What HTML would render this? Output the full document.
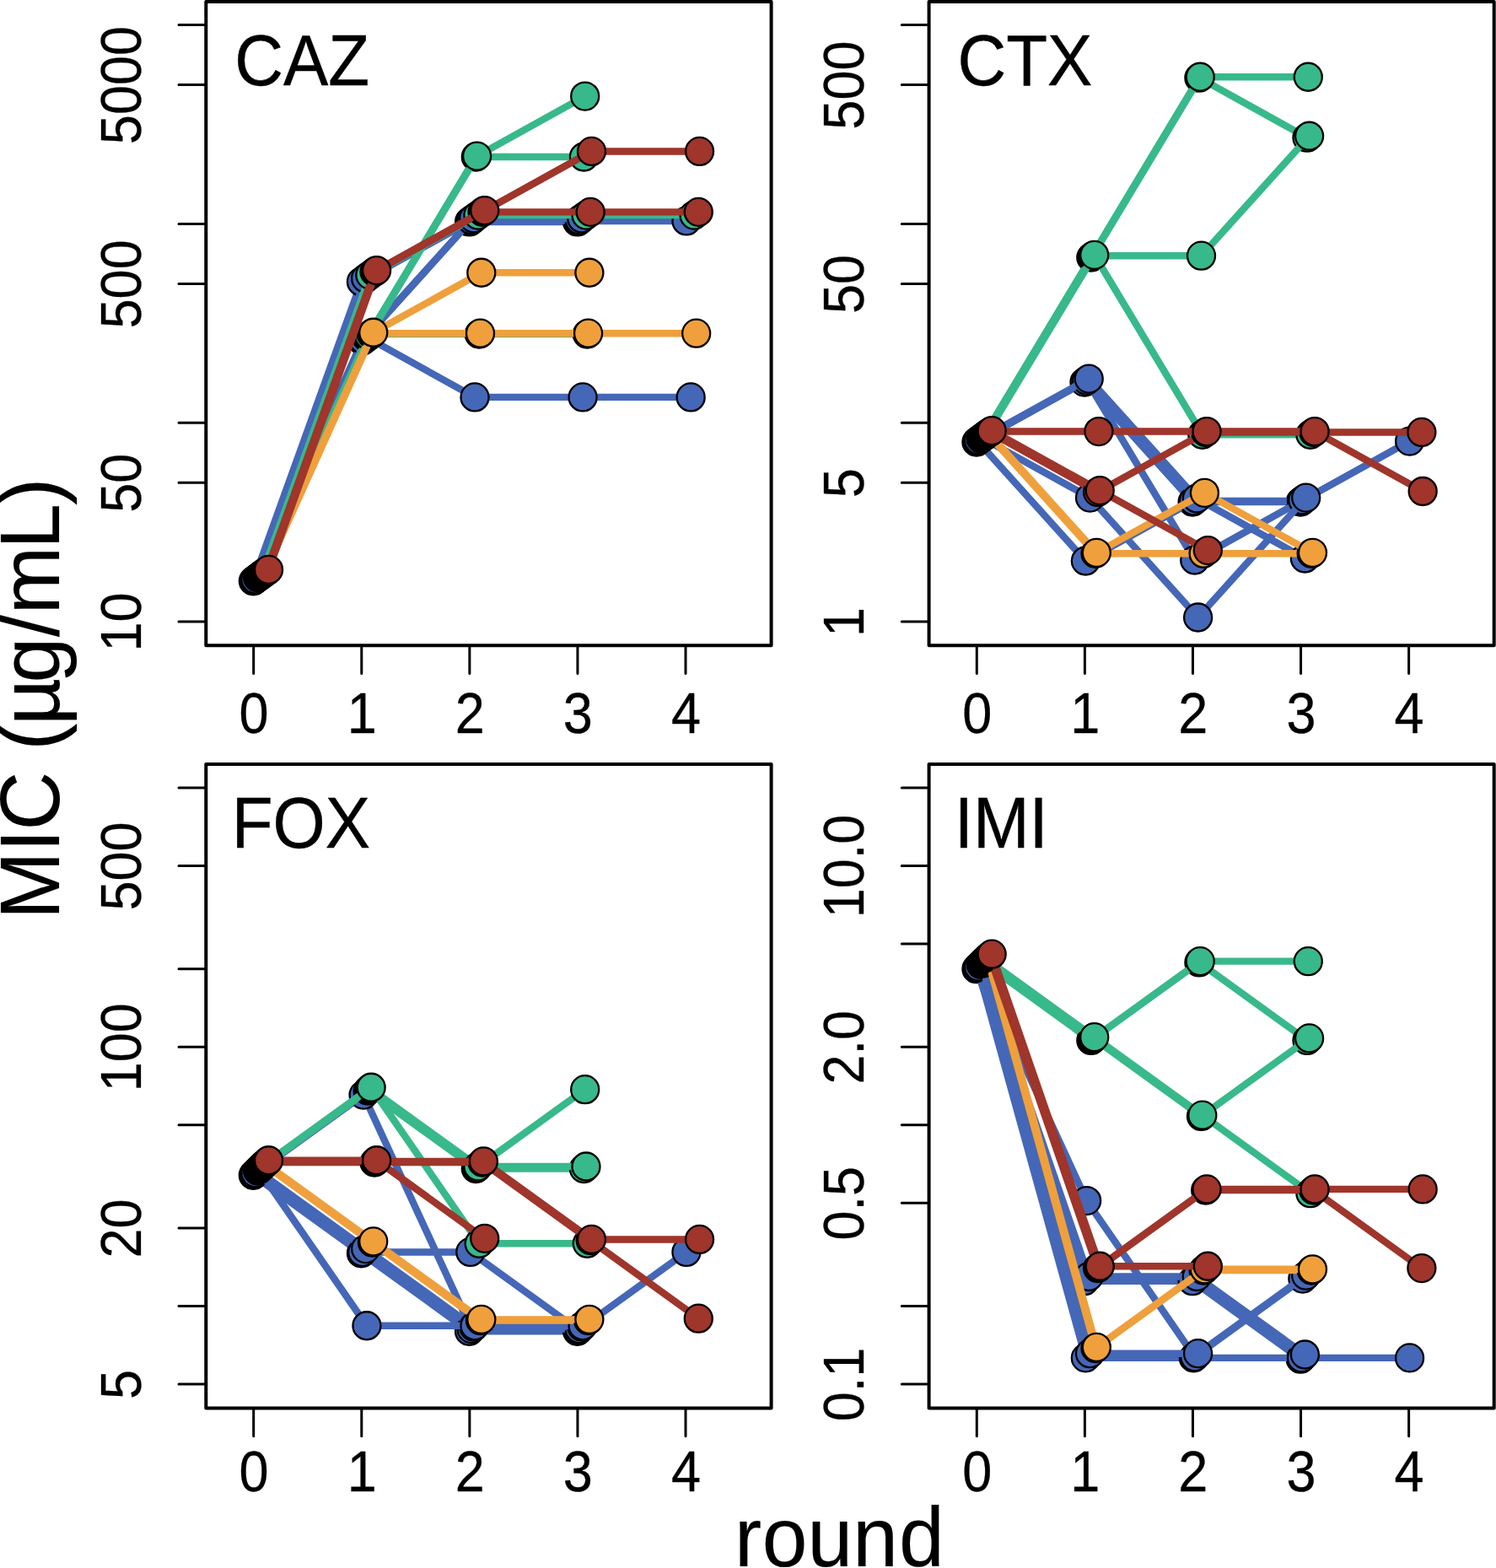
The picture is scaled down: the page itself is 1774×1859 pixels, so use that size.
<!DOCTYPE html>
<html lang="en"><head><meta charset="utf-8"><title>MIC by round</title>
<style>html,body{margin:0;padding:0;background:#fff}body{width:1774px;height:1859px;overflow:hidden}svg{display:block}text{font-family:"Liberation Sans",Arial,Helvetica,sans-serif;fill:#000}text{stroke:#000;stroke-linejoin:round}.t{font-size:64.3px;stroke-width:0.3px}.p{font-size:80px;stroke-width:0.4px}.a{font-size:96.5px;stroke-width:0.15px}.ln{fill:none;stroke-width:8.4;stroke-linejoin:round;stroke-linecap:round}.pt{stroke:#000;stroke-width:2.3}.bx{fill:none;stroke:#000;stroke-width:4;stroke-linejoin:round}.tk{fill:none;stroke:#000;stroke-width:3;stroke-linecap:round}</style></head><body>
<svg xmlns="http://www.w3.org/2000/svg" width="1774" height="1859" viewBox="0 0 1774 1859">
<rect width="1774" height="1859" fill="#fff"/>
<g id="panel-CAZ">
<g clip-path="none">
<polyline class="ln" stroke="#4567b7" points="300.35,688.87 428.43,333.95 556.51,262.97 684.59,262.97"/>
<circle class="pt" cx="300.35" cy="688.87" r="16.5" fill="#4567b7"/>
<circle class="pt" cx="428.43" cy="333.95" r="16.5" fill="#4567b7"/>
<circle class="pt" cx="556.51" cy="262.97" r="16.5" fill="#4567b7"/>
<circle class="pt" cx="684.59" cy="262.97" r="16.5" fill="#4567b7"/>
<polyline class="ln" stroke="#4567b7" points="301.65,687.85 429.73,403.92 557.81,261.95 685.89,261.95 813.97,261.95"/>
<circle class="pt" cx="301.65" cy="687.85" r="16.5" fill="#4567b7"/>
<circle class="pt" cx="429.73" cy="403.92" r="16.5" fill="#4567b7"/>
<circle class="pt" cx="557.81" cy="261.95" r="16.5" fill="#4567b7"/>
<circle class="pt" cx="685.89" cy="261.95" r="16.5" fill="#4567b7"/>
<circle class="pt" cx="813.97" cy="261.95" r="16.5" fill="#4567b7"/>
<polyline class="ln" stroke="#4567b7" points="302.95,686.84 431.03,402.91 559.11,260.94 687.19,260.94"/>
<circle class="pt" cx="302.95" cy="686.84" r="16.5" fill="#4567b7"/>
<circle class="pt" cx="431.03" cy="402.91" r="16.5" fill="#4567b7"/>
<circle class="pt" cx="559.11" cy="260.94" r="16.5" fill="#4567b7"/>
<circle class="pt" cx="687.19" cy="260.94" r="16.5" fill="#4567b7"/>
<polyline class="ln" stroke="#4567b7" points="305.55,684.85 433.63,329.94 561.71,258.95 689.79,258.95"/>
<circle class="pt" cx="305.55" cy="684.85" r="16.5" fill="#4567b7"/>
<circle class="pt" cx="433.63" cy="329.94" r="16.5" fill="#4567b7"/>
<circle class="pt" cx="561.71" cy="258.95" r="16.5" fill="#4567b7"/>
<circle class="pt" cx="689.79" cy="258.95" r="16.5" fill="#4567b7"/>
<polyline class="ln" stroke="#4567b7" points="306.85,683.87 434.93,399.94 563.01,470.92 691.09,470.92 819.17,470.92"/>
<circle class="pt" cx="306.85" cy="683.87" r="16.5" fill="#4567b7"/>
<circle class="pt" cx="434.93" cy="399.94" r="16.5" fill="#4567b7"/>
<circle class="pt" cx="563.01" cy="470.92" r="16.5" fill="#4567b7"/>
<circle class="pt" cx="691.09" cy="470.92" r="16.5" fill="#4567b7"/>
<circle class="pt" cx="819.17" cy="470.92" r="16.5" fill="#4567b7"/>
<polyline class="ln" stroke="#38b98b" points="308.15,682.9 436.23,398.97 564.31,186.02 692.39,186.02"/>
<circle class="pt" cx="308.15" cy="682.9" r="16.5" fill="#38b98b"/>
<circle class="pt" cx="436.23" cy="398.97" r="16.5" fill="#38b98b"/>
<circle class="pt" cx="564.31" cy="186.02" r="16.5" fill="#38b98b"/>
<circle class="pt" cx="692.39" cy="186.02" r="16.5" fill="#38b98b"/>
<polyline class="ln" stroke="#38b98b" points="309.45,681.94 437.53,398.01 565.61,185.06 693.69,114.08"/>
<circle class="pt" cx="309.45" cy="681.94" r="16.5" fill="#38b98b"/>
<circle class="pt" cx="437.53" cy="398.01" r="16.5" fill="#38b98b"/>
<circle class="pt" cx="565.61" cy="185.06" r="16.5" fill="#38b98b"/>
<circle class="pt" cx="693.69" cy="114.08" r="16.5" fill="#38b98b"/>
<polyline class="ln" stroke="#38b98b" points="310.75,680.99 438.83,326.07 566.91,255.09 694.99,255.09 823.07,255.09"/>
<circle class="pt" cx="310.75" cy="680.99" r="16.5" fill="#38b98b"/>
<circle class="pt" cx="438.83" cy="326.07" r="16.5" fill="#38b98b"/>
<circle class="pt" cx="566.91" cy="255.09" r="16.5" fill="#38b98b"/>
<circle class="pt" cx="694.99" cy="255.09" r="16.5" fill="#38b98b"/>
<circle class="pt" cx="823.07" cy="255.09" r="16.5" fill="#38b98b"/>
<polyline class="ln" stroke="#38b98b" points="312.05,680.04 440.13,396.11 568.21,396.11 696.29,396.11"/>
<circle class="pt" cx="312.05" cy="680.04" r="16.5" fill="#38b98b"/>
<circle class="pt" cx="440.13" cy="396.11" r="16.5" fill="#38b98b"/>
<circle class="pt" cx="568.21" cy="396.11" r="16.5" fill="#38b98b"/>
<circle class="pt" cx="696.29" cy="396.11" r="16.5" fill="#38b98b"/>
<polyline class="ln" stroke="#efa03c" points="313.35,679.11 441.43,395.18 569.51,395.18 697.59,395.18 825.67,395.18"/>
<circle class="pt" cx="313.35" cy="679.11" r="16.5" fill="#efa03c"/>
<circle class="pt" cx="441.43" cy="395.18" r="16.5" fill="#efa03c"/>
<circle class="pt" cx="569.51" cy="395.18" r="16.5" fill="#efa03c"/>
<circle class="pt" cx="697.59" cy="395.18" r="16.5" fill="#efa03c"/>
<circle class="pt" cx="825.67" cy="395.18" r="16.5" fill="#efa03c"/>
<polyline class="ln" stroke="#efa03c" points="314.65,678.18 442.73,394.25 570.81,323.27 698.89,323.27"/>
<circle class="pt" cx="314.65" cy="678.18" r="16.5" fill="#efa03c"/>
<circle class="pt" cx="442.73" cy="394.25" r="16.5" fill="#efa03c"/>
<circle class="pt" cx="570.81" cy="323.27" r="16.5" fill="#efa03c"/>
<circle class="pt" cx="698.89" cy="323.27" r="16.5" fill="#efa03c"/>
<polyline class="ln" stroke="#9f352b" points="315.95,677.26 444.03,322.35 572.11,251.37 700.19,251.37 828.27,251.37"/>
<circle class="pt" cx="315.95" cy="677.26" r="16.5" fill="#9f352b"/>
<circle class="pt" cx="444.03" cy="322.35" r="16.5" fill="#9f352b"/>
<circle class="pt" cx="572.11" cy="251.37" r="16.5" fill="#9f352b"/>
<circle class="pt" cx="700.19" cy="251.37" r="16.5" fill="#9f352b"/>
<circle class="pt" cx="828.27" cy="251.37" r="16.5" fill="#9f352b"/>
<polyline class="ln" stroke="#9f352b" points="317.25,676.35 445.33,321.44 573.41,250.46 701.49,179.47 829.57,179.47"/>
<circle class="pt" cx="317.25" cy="676.35" r="16.5" fill="#9f352b"/>
<circle class="pt" cx="445.33" cy="321.44" r="16.5" fill="#9f352b"/>
<circle class="pt" cx="573.41" cy="250.46" r="16.5" fill="#9f352b"/>
<circle class="pt" cx="701.49" cy="179.47" r="16.5" fill="#9f352b"/>
<circle class="pt" cx="829.57" cy="179.47" r="16.5" fill="#9f352b"/>
<polyline class="ln" stroke="#9f352b" points="318.55,675.45 446.63,320.54 574.71,249.55"/>
<circle class="pt" cx="318.55" cy="675.45" r="16.5" fill="#9f352b"/>
<circle class="pt" cx="446.63" cy="320.54" r="16.5" fill="#9f352b"/>
<circle class="pt" cx="574.71" cy="249.55" r="16.5" fill="#9f352b"/>
</g>
<rect class="bx" x="244.3" y="2" width="670.3" height="763.2"/>
<path class="tk" d="M300.7 765.2V798.5M428.78 765.2V798.5M556.86 765.2V798.5M684.94 765.2V798.5M813.02 765.2V798.5M244.3 737H212M244.3 572.18H212M244.3 501.2H212M244.3 336.38H212M244.3 265.4H212M244.3 100.58H212M244.3 29.6H212"/>
<text class="t" text-anchor="middle" transform="translate(301.1 868.6) scale(0.98 1.06)">0</text>
<text class="t" text-anchor="middle" transform="translate(429.18 868.6) scale(0.98 1.06)">1</text>
<text class="t" text-anchor="middle" transform="translate(557.26 868.6) scale(0.98 1.06)">2</text>
<text class="t" text-anchor="middle" transform="translate(685.34 868.6) scale(0.98 1.06)">3</text>
<text class="t" text-anchor="middle" transform="translate(813.42 868.6) scale(0.98 1.06)">4</text>
<text class="t" text-anchor="middle" transform="translate(167 737.5) rotate(-90) scale(0.98 1.06)">10</text>
<text class="t" text-anchor="middle" transform="translate(167 572.68) rotate(-90) scale(0.98 1.06)">50</text>
<text class="t" text-anchor="middle" transform="translate(167 336.88) rotate(-90) scale(0.98 1.06)">500</text>
<text class="t" text-anchor="middle" transform="translate(167 101.08) rotate(-90) scale(0.98 1.06)">5000</text>
<text class="p" transform="translate(278.2 100.6) scale(1 1.07)">CAZ</text>
</g>
<g id="panel-CTX">
<g clip-path="none">
<polyline class="ln" stroke="#4567b7" points="1157.95,524.05 1286.03,453.07 1414.11,595.03 1542.19,595.03"/>
<circle class="pt" cx="1157.95" cy="524.05" r="16.5" fill="#4567b7"/>
<circle class="pt" cx="1286.03" cy="453.07" r="16.5" fill="#4567b7"/>
<circle class="pt" cx="1414.11" cy="595.03" r="16.5" fill="#4567b7"/>
<circle class="pt" cx="1542.19" cy="595.03" r="16.5" fill="#4567b7"/>
<polyline class="ln" stroke="#4567b7" points="1159.25,523.03 1287.33,665 1415.41,594.02 1543.49,594.02 1671.57,523.03"/>
<circle class="pt" cx="1159.25" cy="523.03" r="16.5" fill="#4567b7"/>
<circle class="pt" cx="1287.33" cy="665" r="16.5" fill="#4567b7"/>
<circle class="pt" cx="1415.41" cy="594.02" r="16.5" fill="#4567b7"/>
<circle class="pt" cx="1543.49" cy="594.02" r="16.5" fill="#4567b7"/>
<circle class="pt" cx="1671.57" cy="523.03" r="16.5" fill="#4567b7"/>
<polyline class="ln" stroke="#4567b7" points="1160.55,522.02 1288.63,451.04 1416.71,663.99 1544.79,593.01"/>
<circle class="pt" cx="1160.55" cy="522.02" r="16.5" fill="#4567b7"/>
<circle class="pt" cx="1288.63" cy="451.04" r="16.5" fill="#4567b7"/>
<circle class="pt" cx="1416.71" cy="663.99" r="16.5" fill="#4567b7"/>
<circle class="pt" cx="1544.79" cy="593.01" r="16.5" fill="#4567b7"/>
<polyline class="ln" stroke="#4567b7" points="1163.15,520.03 1291.23,449.05 1419.31,591.02 1547.39,662"/>
<circle class="pt" cx="1163.15" cy="520.03" r="16.5" fill="#4567b7"/>
<circle class="pt" cx="1291.23" cy="449.05" r="16.5" fill="#4567b7"/>
<circle class="pt" cx="1419.31" cy="591.02" r="16.5" fill="#4567b7"/>
<circle class="pt" cx="1547.39" cy="662" r="16.5" fill="#4567b7"/>
<polyline class="ln" stroke="#4567b7" points="1164.45,519.05 1292.53,590.04 1420.61,732 1548.69,590.04"/>
<circle class="pt" cx="1164.45" cy="519.05" r="16.5" fill="#4567b7"/>
<circle class="pt" cx="1292.53" cy="590.04" r="16.5" fill="#4567b7"/>
<circle class="pt" cx="1420.61" cy="732" r="16.5" fill="#4567b7"/>
<circle class="pt" cx="1548.69" cy="590.04" r="16.5" fill="#4567b7"/>
<polyline class="ln" stroke="#38b98b" points="1165.75,518.08 1293.83,305.14 1421.91,92.19 1549.99,163.17"/>
<circle class="pt" cx="1165.75" cy="518.08" r="16.5" fill="#38b98b"/>
<circle class="pt" cx="1293.83" cy="305.14" r="16.5" fill="#38b98b"/>
<circle class="pt" cx="1421.91" cy="92.19" r="16.5" fill="#38b98b"/>
<circle class="pt" cx="1549.99" cy="163.17" r="16.5" fill="#38b98b"/>
<polyline class="ln" stroke="#38b98b" points="1167.05,517.12 1295.13,304.17 1423.21,91.23 1551.29,91.23"/>
<circle class="pt" cx="1167.05" cy="517.12" r="16.5" fill="#38b98b"/>
<circle class="pt" cx="1295.13" cy="304.17" r="16.5" fill="#38b98b"/>
<circle class="pt" cx="1423.21" cy="91.23" r="16.5" fill="#38b98b"/>
<circle class="pt" cx="1551.29" cy="91.23" r="16.5" fill="#38b98b"/>
<polyline class="ln" stroke="#38b98b" points="1168.35,516.17 1296.43,303.22 1424.51,303.22 1552.59,161.26"/>
<circle class="pt" cx="1168.35" cy="516.17" r="16.5" fill="#38b98b"/>
<circle class="pt" cx="1296.43" cy="303.22" r="16.5" fill="#38b98b"/>
<circle class="pt" cx="1424.51" cy="303.22" r="16.5" fill="#38b98b"/>
<circle class="pt" cx="1552.59" cy="161.26" r="16.5" fill="#38b98b"/>
<polyline class="ln" stroke="#38b98b" points="1169.65,515.23 1297.73,302.28 1425.81,515.23 1553.89,515.23"/>
<circle class="pt" cx="1169.65" cy="515.23" r="16.5" fill="#38b98b"/>
<circle class="pt" cx="1297.73" cy="302.28" r="16.5" fill="#38b98b"/>
<circle class="pt" cx="1425.81" cy="515.23" r="16.5" fill="#38b98b"/>
<circle class="pt" cx="1553.89" cy="515.23" r="16.5" fill="#38b98b"/>
<polyline class="ln" stroke="#efa03c" points="1170.95,514.29 1299.03,656.26 1427.11,656.26 1555.19,656.26"/>
<circle class="pt" cx="1170.95" cy="514.29" r="16.5" fill="#efa03c"/>
<circle class="pt" cx="1299.03" cy="656.26" r="16.5" fill="#efa03c"/>
<circle class="pt" cx="1427.11" cy="656.26" r="16.5" fill="#efa03c"/>
<circle class="pt" cx="1555.19" cy="656.26" r="16.5" fill="#efa03c"/>
<polyline class="ln" stroke="#efa03c" points="1172.25,513.36 1300.33,655.33 1428.41,584.35 1556.49,655.33"/>
<circle class="pt" cx="1172.25" cy="513.36" r="16.5" fill="#efa03c"/>
<circle class="pt" cx="1300.33" cy="655.33" r="16.5" fill="#efa03c"/>
<circle class="pt" cx="1428.41" cy="584.35" r="16.5" fill="#efa03c"/>
<circle class="pt" cx="1556.49" cy="655.33" r="16.5" fill="#efa03c"/>
<polyline class="ln" stroke="#9f352b" points="1173.55,512.45 1301.63,583.43 1429.71,512.45 1557.79,512.45 1685.87,512.45"/>
<circle class="pt" cx="1173.55" cy="512.45" r="16.5" fill="#9f352b"/>
<circle class="pt" cx="1301.63" cy="583.43" r="16.5" fill="#9f352b"/>
<circle class="pt" cx="1429.71" cy="512.45" r="16.5" fill="#9f352b"/>
<circle class="pt" cx="1557.79" cy="512.45" r="16.5" fill="#9f352b"/>
<circle class="pt" cx="1685.87" cy="512.45" r="16.5" fill="#9f352b"/>
<polyline class="ln" stroke="#9f352b" points="1174.85,511.54 1302.93,511.54 1431.01,511.54 1559.09,511.54 1687.17,582.52"/>
<circle class="pt" cx="1174.85" cy="511.54" r="16.5" fill="#9f352b"/>
<circle class="pt" cx="1302.93" cy="511.54" r="16.5" fill="#9f352b"/>
<circle class="pt" cx="1431.01" cy="511.54" r="16.5" fill="#9f352b"/>
<circle class="pt" cx="1559.09" cy="511.54" r="16.5" fill="#9f352b"/>
<circle class="pt" cx="1687.17" cy="582.52" r="16.5" fill="#9f352b"/>
<polyline class="ln" stroke="#9f352b" points="1176.15,510.63 1304.23,581.62 1432.31,652.6"/>
<circle class="pt" cx="1176.15" cy="510.63" r="16.5" fill="#9f352b"/>
<circle class="pt" cx="1304.23" cy="581.62" r="16.5" fill="#9f352b"/>
<circle class="pt" cx="1432.31" cy="652.6" r="16.5" fill="#9f352b"/>
</g>
<rect class="bx" x="1101.6" y="2" width="670.1" height="763.2"/>
<path class="tk" d="M1158.3 765.2V798.5M1286.38 765.2V798.5M1414.46 765.2V798.5M1542.54 765.2V798.5M1670.62 765.2V798.5M1101.6 737H1069.3M1101.6 572.18H1069.3M1101.6 501.2H1069.3M1101.6 336.38H1069.3M1101.6 265.4H1069.3M1101.6 100.58H1069.3M1101.6 29.6H1069.3"/>
<text class="t" text-anchor="middle" transform="translate(1158.7 868.6) scale(0.98 1.06)">0</text>
<text class="t" text-anchor="middle" transform="translate(1286.78 868.6) scale(0.98 1.06)">1</text>
<text class="t" text-anchor="middle" transform="translate(1414.86 868.6) scale(0.98 1.06)">2</text>
<text class="t" text-anchor="middle" transform="translate(1542.94 868.6) scale(0.98 1.06)">3</text>
<text class="t" text-anchor="middle" transform="translate(1671.02 868.6) scale(0.98 1.06)">4</text>
<text class="t" text-anchor="middle" transform="translate(1024.3 737.5) rotate(-90) scale(0.98 1.06)">1</text>
<text class="t" text-anchor="middle" transform="translate(1024.3 572.68) rotate(-90) scale(0.98 1.06)">5</text>
<text class="t" text-anchor="middle" transform="translate(1024.3 336.88) rotate(-90) scale(0.98 1.06)">50</text>
<text class="t" text-anchor="middle" transform="translate(1024.3 101.08) rotate(-90) scale(0.98 1.06)">500</text>
<text class="p" transform="translate(1135.5 100.6) scale(1 1.07)">CTX</text>
</g>
<g id="panel-FOX">
<g clip-path="none">
<polyline class="ln" stroke="#4567b7" points="300.35,1393.26 428.43,1485.77 556.51,1578.27 684.59,1578.27"/>
<circle class="pt" cx="300.35" cy="1393.26" r="16.5" fill="#4567b7"/>
<circle class="pt" cx="428.43" cy="1485.77" r="16.5" fill="#4567b7"/>
<circle class="pt" cx="556.51" cy="1578.27" r="16.5" fill="#4567b7"/>
<circle class="pt" cx="684.59" cy="1578.27" r="16.5" fill="#4567b7"/>
<polyline class="ln" stroke="#4567b7" points="301.65,1391.93 429.73,1484.44 557.81,1484.44 685.89,1576.95 813.97,1484.44"/>
<circle class="pt" cx="301.65" cy="1391.93" r="16.5" fill="#4567b7"/>
<circle class="pt" cx="429.73" cy="1484.44" r="16.5" fill="#4567b7"/>
<circle class="pt" cx="557.81" cy="1484.44" r="16.5" fill="#4567b7"/>
<circle class="pt" cx="685.89" cy="1576.95" r="16.5" fill="#4567b7"/>
<circle class="pt" cx="813.97" cy="1484.44" r="16.5" fill="#4567b7"/>
<polyline class="ln" stroke="#4567b7" points="302.95,1390.62 431.03,1298.11 559.11,1575.63 687.19,1575.63"/>
<circle class="pt" cx="302.95" cy="1390.62" r="16.5" fill="#4567b7"/>
<circle class="pt" cx="431.03" cy="1298.11" r="16.5" fill="#4567b7"/>
<circle class="pt" cx="559.11" cy="1575.63" r="16.5" fill="#4567b7"/>
<circle class="pt" cx="687.19" cy="1575.63" r="16.5" fill="#4567b7"/>
<polyline class="ln" stroke="#4567b7" points="305.55,1388.03 433.63,1480.53 561.71,1573.04 689.79,1573.04"/>
<circle class="pt" cx="305.55" cy="1388.03" r="16.5" fill="#4567b7"/>
<circle class="pt" cx="433.63" cy="1480.53" r="16.5" fill="#4567b7"/>
<circle class="pt" cx="561.71" cy="1573.04" r="16.5" fill="#4567b7"/>
<circle class="pt" cx="689.79" cy="1573.04" r="16.5" fill="#4567b7"/>
<polyline class="ln" stroke="#4567b7" points="306.85,1386.75 434.93,1571.76 563.01,1571.76 691.09,1571.76"/>
<circle class="pt" cx="306.85" cy="1386.75" r="16.5" fill="#4567b7"/>
<circle class="pt" cx="434.93" cy="1571.76" r="16.5" fill="#4567b7"/>
<circle class="pt" cx="563.01" cy="1571.76" r="16.5" fill="#4567b7"/>
<circle class="pt" cx="691.09" cy="1571.76" r="16.5" fill="#4567b7"/>
<polyline class="ln" stroke="#38b98b" points="308.15,1385.48 436.23,1292.98 564.31,1385.48 692.39,1385.48"/>
<circle class="pt" cx="308.15" cy="1385.48" r="16.5" fill="#38b98b"/>
<circle class="pt" cx="436.23" cy="1292.98" r="16.5" fill="#38b98b"/>
<circle class="pt" cx="564.31" cy="1385.48" r="16.5" fill="#38b98b"/>
<circle class="pt" cx="692.39" cy="1385.48" r="16.5" fill="#38b98b"/>
<polyline class="ln" stroke="#38b98b" points="309.45,1384.23 437.53,1291.72 565.61,1384.23 693.69,1291.72"/>
<circle class="pt" cx="309.45" cy="1384.23" r="16.5" fill="#38b98b"/>
<circle class="pt" cx="437.53" cy="1291.72" r="16.5" fill="#38b98b"/>
<circle class="pt" cx="565.61" cy="1384.23" r="16.5" fill="#38b98b"/>
<circle class="pt" cx="693.69" cy="1291.72" r="16.5" fill="#38b98b"/>
<polyline class="ln" stroke="#38b98b" points="310.75,1382.99 438.83,1290.48 566.91,1382.99 694.99,1382.99"/>
<circle class="pt" cx="310.75" cy="1382.99" r="16.5" fill="#38b98b"/>
<circle class="pt" cx="438.83" cy="1290.48" r="16.5" fill="#38b98b"/>
<circle class="pt" cx="566.91" cy="1382.99" r="16.5" fill="#38b98b"/>
<circle class="pt" cx="694.99" cy="1382.99" r="16.5" fill="#38b98b"/>
<polyline class="ln" stroke="#38b98b" points="312.05,1381.76 440.13,1289.25 568.21,1474.27 696.29,1474.27"/>
<circle class="pt" cx="312.05" cy="1381.76" r="16.5" fill="#38b98b"/>
<circle class="pt" cx="440.13" cy="1289.25" r="16.5" fill="#38b98b"/>
<circle class="pt" cx="568.21" cy="1474.27" r="16.5" fill="#38b98b"/>
<circle class="pt" cx="696.29" cy="1474.27" r="16.5" fill="#38b98b"/>
<polyline class="ln" stroke="#efa03c" points="313.35,1380.54 441.43,1473.05 569.51,1565.55 697.59,1565.55"/>
<circle class="pt" cx="313.35" cy="1380.54" r="16.5" fill="#efa03c"/>
<circle class="pt" cx="441.43" cy="1473.05" r="16.5" fill="#efa03c"/>
<circle class="pt" cx="569.51" cy="1565.55" r="16.5" fill="#efa03c"/>
<circle class="pt" cx="697.59" cy="1565.55" r="16.5" fill="#efa03c"/>
<polyline class="ln" stroke="#efa03c" points="314.65,1379.33 442.73,1471.84 570.81,1564.35 698.89,1564.35"/>
<circle class="pt" cx="314.65" cy="1379.33" r="16.5" fill="#efa03c"/>
<circle class="pt" cx="442.73" cy="1471.84" r="16.5" fill="#efa03c"/>
<circle class="pt" cx="570.81" cy="1564.35" r="16.5" fill="#efa03c"/>
<circle class="pt" cx="698.89" cy="1564.35" r="16.5" fill="#efa03c"/>
<polyline class="ln" stroke="#9f352b" points="315.95,1378.14 444.03,1378.14 572.11,1378.14 700.19,1470.64 828.27,1563.15"/>
<circle class="pt" cx="315.95" cy="1378.14" r="16.5" fill="#9f352b"/>
<circle class="pt" cx="444.03" cy="1378.14" r="16.5" fill="#9f352b"/>
<circle class="pt" cx="572.11" cy="1378.14" r="16.5" fill="#9f352b"/>
<circle class="pt" cx="700.19" cy="1470.64" r="16.5" fill="#9f352b"/>
<circle class="pt" cx="828.27" cy="1563.15" r="16.5" fill="#9f352b"/>
<polyline class="ln" stroke="#9f352b" points="317.25,1376.95 445.33,1376.95 573.41,1376.95 701.49,1469.46 829.57,1469.46"/>
<circle class="pt" cx="317.25" cy="1376.95" r="16.5" fill="#9f352b"/>
<circle class="pt" cx="445.33" cy="1376.95" r="16.5" fill="#9f352b"/>
<circle class="pt" cx="573.41" cy="1376.95" r="16.5" fill="#9f352b"/>
<circle class="pt" cx="701.49" cy="1469.46" r="16.5" fill="#9f352b"/>
<circle class="pt" cx="829.57" cy="1469.46" r="16.5" fill="#9f352b"/>
<polyline class="ln" stroke="#9f352b" points="318.55,1375.77 446.63,1375.77 574.71,1468.28"/>
<circle class="pt" cx="318.55" cy="1375.77" r="16.5" fill="#9f352b"/>
<circle class="pt" cx="446.63" cy="1375.77" r="16.5" fill="#9f352b"/>
<circle class="pt" cx="574.71" cy="1468.28" r="16.5" fill="#9f352b"/>
</g>
<rect class="bx" x="244.3" y="906.1" width="670.3" height="763.3"/>
<path class="tk" d="M300.7 1669.4V1702.7M428.78 1669.4V1702.7M556.86 1669.4V1702.7M684.94 1669.4V1702.7M813.02 1669.4V1702.7M244.3 1641H212M244.3 1548.49H212M244.3 1455.99H212M244.3 1333.7H212M244.3 1241.19H212M244.3 1148.69H212M244.3 1026.4H212M244.3 933.89H212"/>
<text class="t" text-anchor="middle" transform="translate(301.1 1767.5) scale(0.98 1.06)">0</text>
<text class="t" text-anchor="middle" transform="translate(429.18 1767.5) scale(0.98 1.06)">1</text>
<text class="t" text-anchor="middle" transform="translate(557.26 1767.5) scale(0.98 1.06)">2</text>
<text class="t" text-anchor="middle" transform="translate(685.34 1767.5) scale(0.98 1.06)">3</text>
<text class="t" text-anchor="middle" transform="translate(813.42 1767.5) scale(0.98 1.06)">4</text>
<text class="t" text-anchor="middle" transform="translate(167 1641.5) rotate(-90) scale(0.98 1.06)">5</text>
<text class="t" text-anchor="middle" transform="translate(167 1456.49) rotate(-90) scale(0.98 1.06)">20</text>
<text class="t" text-anchor="middle" transform="translate(167 1241.69) rotate(-90) scale(0.98 1.06)">100</text>
<text class="t" text-anchor="middle" transform="translate(167 1026.9) rotate(-90) scale(0.98 1.06)">500</text>
<text class="p" transform="translate(274.7 1004.6) scale(1 1.07)">FOX</text>
</g>
<g id="panel-IMI">
<g clip-path="none">
<polyline class="ln" stroke="#4567b7" points="1157.95,1148.69 1286.03,1518.71 1414.11,1518.71 1542.19,1611.22"/>
<circle class="pt" cx="1157.95" cy="1148.69" r="16.5" fill="#4567b7"/>
<circle class="pt" cx="1286.03" cy="1518.71" r="16.5" fill="#4567b7"/>
<circle class="pt" cx="1414.11" cy="1518.71" r="16.5" fill="#4567b7"/>
<circle class="pt" cx="1542.19" cy="1611.22" r="16.5" fill="#4567b7"/>
<polyline class="ln" stroke="#4567b7" points="1159.25,1147.36 1287.33,1609.89 1415.41,1609.89 1543.49,1609.89 1671.57,1609.89"/>
<circle class="pt" cx="1159.25" cy="1147.36" r="16.5" fill="#4567b7"/>
<circle class="pt" cx="1287.33" cy="1609.89" r="16.5" fill="#4567b7"/>
<circle class="pt" cx="1415.41" cy="1609.89" r="16.5" fill="#4567b7"/>
<circle class="pt" cx="1543.49" cy="1609.89" r="16.5" fill="#4567b7"/>
<circle class="pt" cx="1671.57" cy="1609.89" r="16.5" fill="#4567b7"/>
<polyline class="ln" stroke="#4567b7" points="1160.55,1146.04 1288.63,1423.56 1416.71,1608.58 1544.79,1516.07"/>
<circle class="pt" cx="1160.55" cy="1146.04" r="16.5" fill="#4567b7"/>
<circle class="pt" cx="1288.63" cy="1423.56" r="16.5" fill="#4567b7"/>
<circle class="pt" cx="1416.71" cy="1608.58" r="16.5" fill="#4567b7"/>
<circle class="pt" cx="1544.79" cy="1516.07" r="16.5" fill="#4567b7"/>
<polyline class="ln" stroke="#4567b7" points="1163.15,1143.45 1291.23,1513.48 1419.31,1513.48 1547.39,1605.99"/>
<circle class="pt" cx="1163.15" cy="1143.45" r="16.5" fill="#4567b7"/>
<circle class="pt" cx="1291.23" cy="1513.48" r="16.5" fill="#4567b7"/>
<circle class="pt" cx="1419.31" cy="1513.48" r="16.5" fill="#4567b7"/>
<circle class="pt" cx="1547.39" cy="1605.99" r="16.5" fill="#4567b7"/>
<polyline class="ln" stroke="#4567b7" points="1164.45,1142.18 1292.53,1604.71 1420.61,1604.71 1548.69,1512.2"/>
<circle class="pt" cx="1164.45" cy="1142.18" r="16.5" fill="#4567b7"/>
<circle class="pt" cx="1292.53" cy="1604.71" r="16.5" fill="#4567b7"/>
<circle class="pt" cx="1420.61" cy="1604.71" r="16.5" fill="#4567b7"/>
<circle class="pt" cx="1548.69" cy="1512.2" r="16.5" fill="#4567b7"/>
<polyline class="ln" stroke="#38b98b" points="1165.75,1140.91 1293.83,1233.42 1421.91,1140.91 1549.99,1233.42"/>
<circle class="pt" cx="1165.75" cy="1140.91" r="16.5" fill="#38b98b"/>
<circle class="pt" cx="1293.83" cy="1233.42" r="16.5" fill="#38b98b"/>
<circle class="pt" cx="1421.91" cy="1140.91" r="16.5" fill="#38b98b"/>
<circle class="pt" cx="1549.99" cy="1233.42" r="16.5" fill="#38b98b"/>
<polyline class="ln" stroke="#38b98b" points="1167.05,1139.66 1295.13,1232.16 1423.21,1139.66 1551.29,1139.66"/>
<circle class="pt" cx="1167.05" cy="1139.66" r="16.5" fill="#38b98b"/>
<circle class="pt" cx="1295.13" cy="1232.16" r="16.5" fill="#38b98b"/>
<circle class="pt" cx="1423.21" cy="1139.66" r="16.5" fill="#38b98b"/>
<circle class="pt" cx="1551.29" cy="1139.66" r="16.5" fill="#38b98b"/>
<polyline class="ln" stroke="#38b98b" points="1168.35,1138.42 1296.43,1230.92 1424.51,1323.43 1552.59,1230.92"/>
<circle class="pt" cx="1168.35" cy="1138.42" r="16.5" fill="#38b98b"/>
<circle class="pt" cx="1296.43" cy="1230.92" r="16.5" fill="#38b98b"/>
<circle class="pt" cx="1424.51" cy="1323.43" r="16.5" fill="#38b98b"/>
<circle class="pt" cx="1552.59" cy="1230.92" r="16.5" fill="#38b98b"/>
<polyline class="ln" stroke="#38b98b" points="1169.65,1137.19 1297.73,1229.69 1425.81,1322.2 1553.89,1414.71"/>
<circle class="pt" cx="1169.65" cy="1137.19" r="16.5" fill="#38b98b"/>
<circle class="pt" cx="1297.73" cy="1229.69" r="16.5" fill="#38b98b"/>
<circle class="pt" cx="1425.81" cy="1322.2" r="16.5" fill="#38b98b"/>
<circle class="pt" cx="1553.89" cy="1414.71" r="16.5" fill="#38b98b"/>
<polyline class="ln" stroke="#efa03c" points="1170.95,1135.97 1299.03,1598.5 1427.11,1505.99 1555.19,1505.99"/>
<circle class="pt" cx="1170.95" cy="1135.97" r="16.5" fill="#efa03c"/>
<circle class="pt" cx="1299.03" cy="1598.5" r="16.5" fill="#efa03c"/>
<circle class="pt" cx="1427.11" cy="1505.99" r="16.5" fill="#efa03c"/>
<circle class="pt" cx="1555.19" cy="1505.99" r="16.5" fill="#efa03c"/>
<polyline class="ln" stroke="#efa03c" points="1172.25,1134.76 1300.33,1597.29 1428.41,1504.79 1556.49,1504.79"/>
<circle class="pt" cx="1172.25" cy="1134.76" r="16.5" fill="#efa03c"/>
<circle class="pt" cx="1300.33" cy="1597.29" r="16.5" fill="#efa03c"/>
<circle class="pt" cx="1428.41" cy="1504.79" r="16.5" fill="#efa03c"/>
<circle class="pt" cx="1556.49" cy="1504.79" r="16.5" fill="#efa03c"/>
<polyline class="ln" stroke="#9f352b" points="1173.55,1133.56 1301.63,1503.59 1429.71,1411.08 1557.79,1411.08 1685.87,1503.59"/>
<circle class="pt" cx="1173.55" cy="1133.56" r="16.5" fill="#9f352b"/>
<circle class="pt" cx="1301.63" cy="1503.59" r="16.5" fill="#9f352b"/>
<circle class="pt" cx="1429.71" cy="1411.08" r="16.5" fill="#9f352b"/>
<circle class="pt" cx="1557.79" cy="1411.08" r="16.5" fill="#9f352b"/>
<circle class="pt" cx="1685.87" cy="1503.59" r="16.5" fill="#9f352b"/>
<polyline class="ln" stroke="#9f352b" points="1174.85,1132.38 1302.93,1502.4 1431.01,1409.9 1559.09,1409.9 1687.17,1409.9"/>
<circle class="pt" cx="1174.85" cy="1132.38" r="16.5" fill="#9f352b"/>
<circle class="pt" cx="1302.93" cy="1502.4" r="16.5" fill="#9f352b"/>
<circle class="pt" cx="1431.01" cy="1409.9" r="16.5" fill="#9f352b"/>
<circle class="pt" cx="1559.09" cy="1409.9" r="16.5" fill="#9f352b"/>
<circle class="pt" cx="1687.17" cy="1409.9" r="16.5" fill="#9f352b"/>
<polyline class="ln" stroke="#9f352b" points="1176.15,1131.2 1304.23,1501.23 1432.31,1501.23"/>
<circle class="pt" cx="1176.15" cy="1131.2" r="16.5" fill="#9f352b"/>
<circle class="pt" cx="1304.23" cy="1501.23" r="16.5" fill="#9f352b"/>
<circle class="pt" cx="1432.31" cy="1501.23" r="16.5" fill="#9f352b"/>
</g>
<rect class="bx" x="1101.6" y="906.1" width="670.1" height="763.3"/>
<path class="tk" d="M1158.3 1669.4V1702.7M1286.38 1669.4V1702.7M1414.46 1669.4V1702.7M1542.54 1669.4V1702.7M1670.62 1669.4V1702.7M1101.6 1641H1069.3M1101.6 1548.49H1069.3M1101.6 1426.21H1069.3M1101.6 1333.7H1069.3M1101.6 1241.19H1069.3M1101.6 1118.91H1069.3M1101.6 1026.4H1069.3M1101.6 933.89H1069.3"/>
<text class="t" text-anchor="middle" transform="translate(1158.7 1767.5) scale(0.98 1.06)">0</text>
<text class="t" text-anchor="middle" transform="translate(1286.78 1767.5) scale(0.98 1.06)">1</text>
<text class="t" text-anchor="middle" transform="translate(1414.86 1767.5) scale(0.98 1.06)">2</text>
<text class="t" text-anchor="middle" transform="translate(1542.94 1767.5) scale(0.98 1.06)">3</text>
<text class="t" text-anchor="middle" transform="translate(1671.02 1767.5) scale(0.98 1.06)">4</text>
<text class="t" text-anchor="middle" transform="translate(1024.3 1641.5) rotate(-90) scale(0.98 1.06)">0.1</text>
<text class="t" text-anchor="middle" transform="translate(1024.3 1426.71) rotate(-90) scale(0.98 1.06)">0.5</text>
<text class="t" text-anchor="middle" transform="translate(1024.3 1241.69) rotate(-90) scale(0.98 1.06)">2.0</text>
<text class="t" text-anchor="middle" transform="translate(1024.3 1026.9) rotate(-90) scale(0.98 1.06)">10.0</text>
<text class="p" transform="translate(1131.7 1004.6) scale(1 1.07)">IMI</text>
</g>
<text class="a" text-anchor="middle" dx="-2 0.8 0 0 1.2" transform="translate(997.3 1856.8) scale(1 1.03)">round</text>
<text class="a" dx="0 -0.5 -1.3 0 -1.7 -2.1 -5.5 0.6 0.2 -2.7 -2.1" transform="translate(69.7 1089.9) rotate(-90) scale(1 1.03)">MIC (µg/mL)</text>
</svg></body></html>
